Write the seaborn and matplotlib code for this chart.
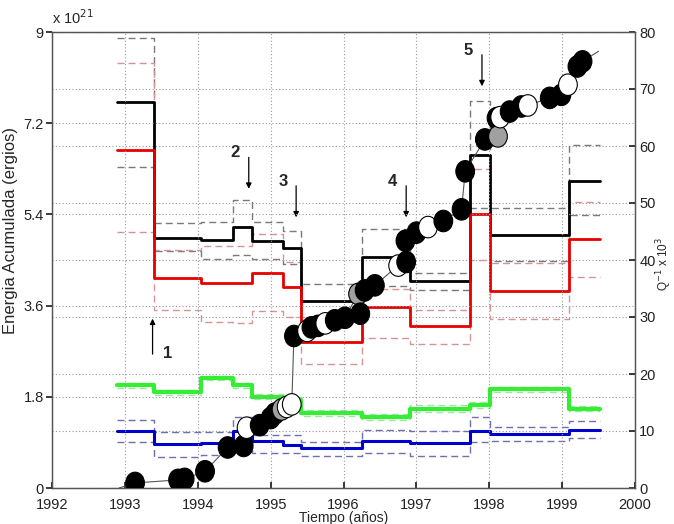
import numpy as np
import pandas as pd
import matplotlib
matplotlib.use("Agg")
import matplotlib.pyplot as plt
from matplotlib.path import Path
from matplotlib.transforms import Affine2D
import seaborn as sns

# ---- data ----
t_edges = [1992.89, 1993.40, 1994.05, 1994.49, 1994.75, 1995.17, 1995.41,
           1996.25, 1996.91, 1997.74, 1998.01, 1999.09, 1999.52]

black_q = [67.8, 43.8, 43.5, 45.8, 43.3, 42.1, 32.8, 40.5, 36.3, 58.5, 44.4, 53.9]
black_hi = [79.0, 46.5, 46.7, 50.5, 46.6, 45.1, 35.8, 45.5, 37.7, 67.9, 49.2, 60.1]
black_lo = [56.3, 41.6, 40.2, 40.8, 40.2, 39.3, 29.5, 35.5, 34.8, 49.2, 39.8, 47.9]

red_q = [59.3, 36.8, 36.0, 36.0, 37.7, 35.2, 25.7, 31.7, 28.4, 48.0, 34.6, 43.7]
red_hi = [74.6, 41.8, 42.5, 42.5, 44.5, 39.6, 30.0, 35.0, 31.3, 55.9, 39.4, 50.1]
red_lo = [44.9, 31.3, 29.2, 29.0, 31.1, 30.0, 21.8, 26.4, 25.3, 40.0, 29.7, 37.1]

green_q = [18.0, 16.8, 19.3, 18.0, 16.0, 15.4, 13.1, 12.4, 13.9, 14.6, 17.3, 13.9]
green_hi = [18.4, 17.2, 19.7, 18.4, 16.5, 15.9, 13.6, 12.9, 14.6, 15.1, 17.7, 14.3]
green_lo = [17.6, 16.4, 18.9, 17.6, 15.6, 15.0, 12.7, 12.0, 13.4, 14.1, 16.9, 13.5]

blue_q = [10.0, 7.7, 7.9, 10.0, 8.2, 7.6, 7.0, 8.3, 7.9, 10.0, 9.5, 10.1]
blue_hi = [12.0, 9.8, 9.8, 12.4, 9.3, 9.3, 8.0, 10.1, 10.0, 12.4, 10.7, 11.7]
blue_lo = [8.0, 5.4, 5.8, 7.6, 6.1, 6.1, 5.6, 6.1, 5.6, 8.0, 8.3, 8.7]

energy_t = [1993.14, 1993.73, 1993.82, 1994.10, 1994.41, 1994.63, 1994.67, 1994.85,
            1995.00, 1995.06, 1995.15, 1995.22, 1995.29, 1995.32, 1995.50, 1995.56,
            1995.65, 1995.75, 1995.88, 1996.02, 1996.20, 1996.23, 1996.29, 1996.43,
            1996.75, 1996.86, 1996.85, 1997.00, 1997.16, 1997.37, 1997.62, 1997.67,
            1997.94, 1998.10, 1998.12, 1998.15, 1998.28, 1998.44, 1998.53, 1998.83,
            1998.99, 1999.08, 1999.21, 1999.28]
energy_e = [0.10, 0.16, 0.18, 0.33, 0.80, 0.83, 1.19, 1.24,
            1.38, 1.47, 1.55, 1.60, 1.65, 3.00, 3.10, 3.17,
            3.20, 3.25, 3.31, 3.36, 3.83, 3.44, 3.90, 4.00,
            4.39, 4.46, 4.88, 5.04, 5.15, 5.27, 5.50, 6.25,
            6.88, 7.30, 6.94, 7.32, 7.43, 7.53, 7.55, 7.70,
            7.76, 7.96, 8.32, 8.42]
energy_kind = ["k", "k", "k", "k", "k", "k", "w", "k",
               "k", "k", "g", "w", "w", "k", "w", "k",
               "k", "w", "k", "k", "g", "k", "k", "k",
               "w", "k", "k", "k", "w", "k", "k", "k",
               "k", "k", "g", "w", "k", "k", "w", "k",
               "k", "w", "k", "k"]

ann_labels = ["1", "2", "3", "4", "5"]
ann_x = [1993.38, 1994.70, 1995.35, 1996.86, 1997.90]

sns.set_theme(style="white")
plt.rcParams["font.family"] = ["Liberation Sans", "DejaVu Sans"]

fig = plt.figure(figsize=(6.74, 5.24), dpi=100)
ax = fig.add_axes([52 / 674, 36 / 524, 583 / 674, 456 / 524])
ax2 = ax.twinx()


def steps(vals):
    return pd.DataFrame({"t": t_edges, "v": list(vals) + [vals[-1]]})


dash = (5, 3)
band_specs = [
    (black_hi, "#7a7a7a"), (black_lo, "#7a7a7a"),
    (red_hi, "#d49494"), (red_lo, "#d49494"),
    (green_hi, "#a0e8a0"), (green_lo, "#a0e8a0"),
    (blue_hi, "#7070b0"), (blue_lo, "#7070b0"),
]
for vals, col in band_specs:
    d = steps(vals)
    sns.lineplot(data=d, x="t", y="v", ax=ax2, color=col, lw=1.0,
                 drawstyle="steps-post", linestyle=(0, dash),
                 estimator=None, sort=False)

main_specs = [(black_q, "black", 2.0), (red_q, "#e60000", 2.0),
              (green_q, "#33ee33", 3.0), (blue_q, "#0000cc", 2.2)]
for vals, col, lw in main_specs:
    d = steps(vals)
    sns.lineplot(data=d, x="t", y="v", ax=ax2, color=col, lw=lw,
                 drawstyle="steps-post", estimator=None, sort=False)

# energy curve (left axis)
edf = pd.DataFrame({"t": energy_t, "e": energy_e, "k": energy_kind})
line_df = pd.DataFrame({"t": [1992.92] + energy_t + [1999.50],
                        "e": [0.0] + energy_e + [8.62]})
sns.lineplot(data=line_df, x="t", y="e", ax=ax, color="#555555", lw=0.8,
             estimator=None, sort=False, zorder=3)
face = {"k": "black", "w": "white", "g": "#a0a0a0"}
ellipse = Path.unit_circle().transformed(Affine2D().scale(1.0, 1.15))
sns.scatterplot(data=edf, x="t", y="e", hue="k", palette=face, ax=ax,
                s=240, marker=ellipse, edgecolor="black", linewidth=0.8,
                legend=False, zorder=4)

ax.set_zorder(ax2.get_zorder() + 1)
ax.patch.set_visible(False)

ax.set_xlim(1992, 2000)
ax.set_ylim(0, 9)
ax2.set_ylim(0, 80)
ax.set_xticks(range(1992, 2001))
ax.set_yticks([0, 1.8, 3.6, 5.4, 7.2, 9])
ax.set_yticklabels(["0", "1.8", "3.6", "5.4", "7.2", "9"])
ax2.set_yticks(range(0, 81, 10))

grid_kw = dict(color="#999999", linestyle=(0, (1, 2)), lw=0.8)
ax.grid(True, axis="both", **grid_kw)
ax2.grid(True, axis="y", **grid_kw)

for a in (ax, ax2):
    for s in a.spines.values():
        s.set_color("#555555")
        s.set_linewidth(0.9)
ax.tick_params(axis="x", direction="in", length=4, labelsize=10.5,
               colors="#222222", bottom=True, pad=7)
ax.tick_params(axis="y", direction="out", length=4, labelsize=10.5,
               colors="#222222", left=True, pad=2)
ax2.tick_params(axis="y", direction="in", length=4, labelsize=10.5,
                colors="#222222", right=True, pad=3)

ax.set_xlabel("Tiempo (años)", fontsize=10)
ax.xaxis.set_label_coords(0.5, -0.05)
ax.set_ylabel("Energia Acumulada (ergios)", fontsize=12)
ax.yaxis.set_label_coords(-0.058, 0.565)
ax2.set_ylabel("Q$^{-1}$ x 10$^3$", fontsize=8.5, rotation=90, va="center",
               ha="center")
ax2.yaxis.set_label_coords(1.05, 0.49)
ax.text(0.0, 1.012, r"x 10$^{21}$", transform=ax.transAxes, fontsize=10.5,
        ha="left", va="bottom")

arrow_kw = dict(arrowstyle="-|>", color="black", lw=0.9, mutation_scale=8)
ax2.annotate("", xy=(ann_x[0], 30.2), xytext=(ann_x[0], 23.0), arrowprops=arrow_kw)
ax2.text(ann_x[0] + 0.15, 23.6, ann_labels[0], fontsize=12, fontweight="bold",
         ha="left", va="center")
for lab, x, y_tip, y_tail in zip(ann_labels[1:], ann_x[1:],
                                 [52.0, 47.0, 47.0, 70.0],
                                 [58.5, 53.5, 53.5, 76.5]):
    ax2.annotate("", xy=(x, y_tip), xytext=(x, y_tail), arrowprops=arrow_kw)
    ax2.text(x - 0.12, y_tail + 0.3, lab, fontsize=12, fontweight="bold",
             ha="right", va="center")

fig.savefig("out.png", dpi=100)
